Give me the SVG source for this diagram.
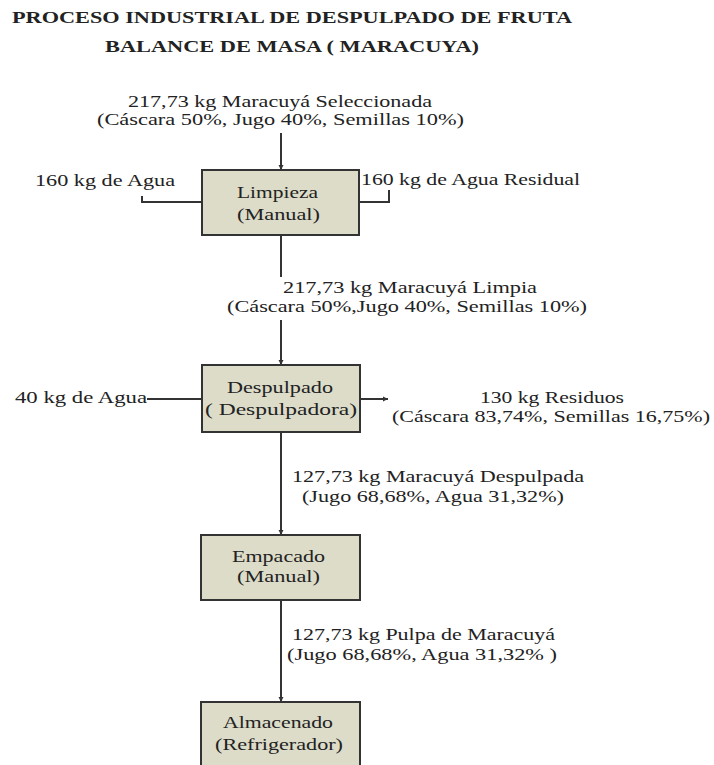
<svg xmlns="http://www.w3.org/2000/svg" width="714" height="765" viewBox="0 0 714 765">
<style>
.bg{fill:#ffffff}
.box{fill:#dcdcc9;stroke:#333333;stroke-width:2}
.t{font-family:"Liberation Serif","Times New Roman",serif;font-size:17px;fill:#222222}
.s{font-size:16px}
.b{font-family:"Liberation Serif","Times New Roman",serif;font-size:16px;font-weight:bold;fill:#222222}
.ln{fill:none;stroke:#333333;stroke-width:2}
</style>
<defs>
<marker id="ah" markerWidth="6" markerHeight="6" refX="5" refY="3" orient="auto" markerUnits="userSpaceOnUse">
<path d="M0,0.5 L5,3 L0,5.5 z" fill="#333333"/>
</marker>
</defs>
<rect class="bg" x="0" y="0" width="714" height="765"/>
<g id="title">
<text class="b" x="12" y="23" textLength="560" lengthAdjust="spacingAndGlyphs">PROCESO INDUSTRIAL DE DESPULPADO DE FRUTA</text>
<text class="b" x="105" y="52" textLength="374" lengthAdjust="spacingAndGlyphs">BALANCE DE MASA ( MARACUYA)</text>
</g>
<g id="connectors">
<line class="ln" x1="281" y1="133" x2="281" y2="170" marker-end="url(#ah)"/>
<path class="ln" d="M142,196 V202 H202"/>
<path class="ln" d="M359,202 H389 V190"/>
<line class="ln" x1="281" y1="235" x2="281" y2="277"/>
<line class="ln" x1="281" y1="320" x2="281" y2="365" marker-end="url(#ah)"/>
<line class="ln" x1="147" y1="399" x2="202" y2="399"/>
<line class="ln" x1="360" y1="399" x2="388" y2="399" marker-end="url(#ah)"/>
<line class="ln" x1="281" y1="432" x2="281" y2="535" marker-end="url(#ah)"/>
<line class="ln" x1="281" y1="600" x2="281" y2="702" marker-end="url(#ah)"/>
</g>
<g id="flow-labels">
<text class="t s" x="128" y="107" textLength="304" lengthAdjust="spacingAndGlyphs">217,73 kg Maracuyá Seleccionada</text>
<text class="t s" x="97" y="125" textLength="367" lengthAdjust="spacingAndGlyphs">(Cáscara 50%, Jugo 40%, Semillas 10%)</text>
<text class="t" x="35" y="186" textLength="140" lengthAdjust="spacingAndGlyphs">160 kg de Agua</text>
<text class="t" x="361" y="185" textLength="219" lengthAdjust="spacingAndGlyphs">160 kg de Agua Residual</text>
<text class="t" x="283" y="293" textLength="254" lengthAdjust="spacingAndGlyphs">217,73 kg Maracuyá Limpia</text>
<text class="t" x="227" y="312" textLength="360" lengthAdjust="spacingAndGlyphs">(Cáscara 50%,Jugo 40%, Semillas 10%)</text>
<text class="t" x="15" y="403" textLength="132" lengthAdjust="spacingAndGlyphs">40 kg de Agua</text>
<text class="t" x="480" y="403" textLength="144" lengthAdjust="spacingAndGlyphs">130 kg Residuos</text>
<text class="t" x="392" y="422" textLength="318" lengthAdjust="spacingAndGlyphs">(Cáscara 83,74%, Semillas 16,75%)</text>
<text class="t" x="292" y="482" textLength="292" lengthAdjust="spacingAndGlyphs">127,73 kg Maracuyá Despulpada</text>
<text class="t" x="302" y="502" textLength="262" lengthAdjust="spacingAndGlyphs">(Jugo 68,68%, Agua 31,32%)</text>
<text class="t" x="292" y="640" textLength="263" lengthAdjust="spacingAndGlyphs">127,73 kg Pulpa de Maracuyá</text>
<text class="t" x="287" y="660" textLength="270" lengthAdjust="spacingAndGlyphs">(Jugo 68,68%, Agua 31,32% )</text>
</g>
<g id="limpieza">
<rect class="box" x="202" y="170" width="157" height="65"/>
<text class="t" x="237" y="198" textLength="81" lengthAdjust="spacingAndGlyphs">Limpieza</text>
<text class="t" x="237" y="220" textLength="83" lengthAdjust="spacingAndGlyphs">(Manual)</text>
</g>
<g id="despulpado">
<rect class="box" x="202" y="365" width="158" height="67"/>
<text class="t" x="227" y="393" textLength="106" lengthAdjust="spacingAndGlyphs">Despulpado</text>
<text class="t" x="205" y="415" textLength="152" lengthAdjust="spacingAndGlyphs">( Despulpadora)</text>
</g>
<g id="empacado">
<rect class="box" x="201" y="535" width="159" height="65"/>
<text class="t" x="232" y="562" textLength="93" lengthAdjust="spacingAndGlyphs">Empacado</text>
<text class="t" x="237" y="582" textLength="83" lengthAdjust="spacingAndGlyphs">(Manual)</text>
</g>
<g id="almacenado">
<rect class="box" x="201" y="702" width="159" height="70"/>
<text class="t" x="223" y="728" textLength="110" lengthAdjust="spacingAndGlyphs">Almacenado</text>
<text class="t" x="215" y="750" textLength="128" lengthAdjust="spacingAndGlyphs">(Refrigerador)</text>
</g>
</svg>
